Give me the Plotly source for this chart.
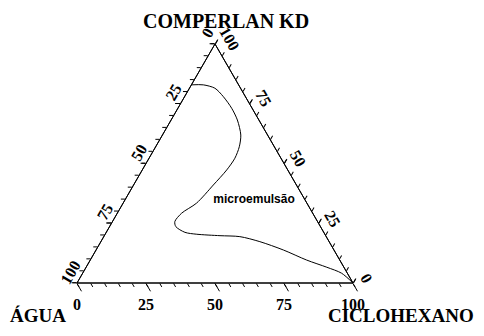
import math
import plotly.graph_objects as go

# Curve boundary of the microemulsion region (percent)
comperlan = [82.9, 82.9, 81.5, 78.0, 73.1, 68.2, 61.9, 57.0, 52.2, 47.3, 41.0, 33.4, 29.2, 25.7, 23.6, 21.2, 20.4, 19.8, 19.4, 17.3, 13.8, 9.6, 6.6, 4.1, 0.0]
agua      = [17.1, 12.8, 9.3, 8.0, 7.4, 7.8, 9.7, 12.7, 16.7, 22.1, 30.1, 40.0, 47.5, 51.7, 52.4, 50.3, 46.4, 38.3, 31.3, 25.1, 18.3, 12.0, 6.2, 2.1, 0.0]
ciclo     = [0.0, 4.3, 9.2, 14.0, 19.5, 24.0, 28.4, 30.3, 31.1, 30.6, 28.9, 26.6, 23.3, 22.6, 24.0, 28.5, 33.2, 41.9, 49.3, 57.6, 67.9, 78.4, 87.2, 93.8, 100.0]

region_label = ["microemulsão"]
label_comperlan = [34.7]
label_agua = [18.5]
label_ciclo = [46.8]

major_ticks = [0, 25, 50, 75, 100]
minor_ticks = list(range(0, 101, 5))
tick_labels = ["0", "25", "50", "75", "100"]

serif = "Liberation Serif"
W, H = 468, 320   # page body has an 8px margin; screen = figure + 8


def px(x):
    return (x - 8) / W


def py(y):
    return 1 - (y - 8) / H


# triangle placement (screen pixels): left, right, base, apex
XL, XR, YB = 77, 353, 283
YT = YB - (XR - XL) * math.sqrt(3) / 2
dom = dict(x=[px(XL), px(XR)], y=[py(YB), py(YT)])
TW, TH = XR - XL, YB - YT

fig = go.Figure()

fig.add_trace(go.Scatterternary(
    a=label_comperlan, b=label_agua, c=label_ciclo, text=region_label,
    mode="text", textfont=dict(family="Liberation Sans", size=12, color="black", weight="bold"),
    hoverinfo="skip", showlegend=False, subplot="ternary"))

fig.add_trace(go.Scatterternary(
    a=comperlan, b=agua, c=ciclo, mode="lines",
    line=dict(color="black", width=1, shape="spline", smoothing=0.8),
    hoverinfo="skip", showlegend=False, subplot="ternary2"))


def axis(major, ticklen):
    return dict(
        tickmode="array", tickvals=major_ticks if major else minor_ticks,
        ticks="outside", ticklen=ticklen, tickwidth=1, tickcolor="black",
        showticklabels=False, showgrid=False, showline=True, linecolor="black", linewidth=1,
        title=dict(text=""))


annotations = []
tfont = dict(family=serif, size=16, color="black", weight="bold")
for v, lab in zip(major_ticks, tick_labels):
    f = v / 100
    # bottom edge: CICLOHEXANO fraction
    annotations.append(dict(text=lab, x=px(XL + f * TW), y=py(YB + 21), xref="paper", yref="paper",
                            showarrow=False, font=tfont, xanchor="center", yanchor="middle"))
    # left edge: ÁGUA fraction (100 at bottom-left vertex)
    annotations.append(dict(text=lab, x=px(XL + (1 - f) * TW / 2 - 7), y=py(YT + f * TH - 11),
                            xref="paper", yref="paper", textangle=-60,
                            showarrow=False, font=tfont, xanchor="center", yanchor="middle"))
    # right edge: COMPERLAN KD fraction (100 at apex)
    annotations.append(dict(text=lab, x=px(XR - f * TW / 2 + 14), y=py(YB - f * TH - 5),
                            xref="paper", yref="paper", textangle=60,
                            showarrow=False, font=tfont, xanchor="center", yanchor="middle"))

title_font = dict(family=serif, size=20, color="black")
base_font = dict(family=serif, size=19, color="black")
annotations += [
    dict(text="<b>COMPERLAN KD</b>", x=px(226), y=1, xref="paper", yref="paper",
         yanchor="top", showarrow=False, font=title_font),
    dict(text="<b>ÁGUA</b>", x=0, y=0, xref="paper", yref="paper", xanchor="left",
         yanchor="bottom", showarrow=False, font=base_font),
    dict(text="<b>CICLOHEXANO</b>", x=1, y=0, xref="paper", yref="paper", xanchor="right",
         yanchor="bottom", showarrow=False, font=base_font),
]

fig.update_layout(
    width=W, height=H, margin=dict(l=0, r=0, t=0, b=0),
    paper_bgcolor="white",
    ternary=dict(domain=dom, sum=100, bgcolor="white",
                 aaxis=axis(True, 5), baxis=axis(True, 9), caxis=axis(True, 5)),
    ternary2=dict(domain=dom, sum=100, bgcolor="rgba(0,0,0,0)",
                  aaxis=axis(False, 4), baxis=axis(False, 4), caxis=axis(False, 4)),
    annotations=annotations,
)

fig.write_html("out.html")
